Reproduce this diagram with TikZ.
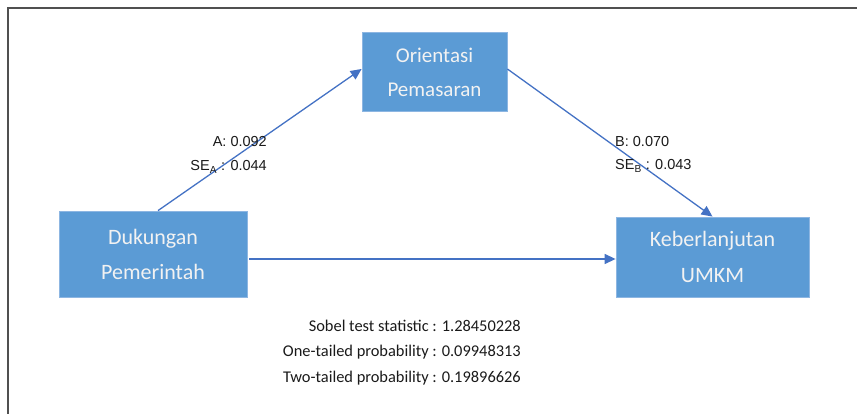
\documentclass[tikz,border=0pt]{standalone}
\usepackage{fontspec}
\setmainfont{Carlito}
\newfontfamily\boxfont{Carlito}
\newfontfamily\labfont{Liberation Sans}
\usetikzlibrary{arrows.meta,calc}
\definecolor{boxblue}{HTML}{5B9BD5}
\definecolor{boxedge}{HTML}{8DB6E2}
\definecolor{arrblue}{HTML}{4472C4}
\definecolor{frame}{HTML}{505050}
\definecolor{txt}{HTML}{1A1A1A}
\tikzset{
  varbox/.style={draw=boxedge, line width=0.8pt, fill=boxblue, text=white!95!black,
    inner sep=0pt, align=center, font=\boxfont\fontsize{21}{34}\selectfont},
  conn/.style={draw=arrblue, line width=1.3pt, -{Triangle[length=11pt,width=10pt]}},
  lab/.style={inner sep=0pt, text=txt, font=\labfont\fontsize{14.5}{17}\selectfont},
  sob/.style={inner sep=0pt, text=txt, font=\boxfont\fontsize{16.4}{19}\selectfont}
}
\begin{document}
\begin{tikzpicture}[x=1pt,y=-1pt]
\useasboundingbox (0,0) rectangle (857,414);
% frame (top and left edges)
\draw[frame, line width=2pt] (8,414) -- (8,8) -- (857,8);
% boxes
\node[varbox, minimum width=145pt, minimum height=79pt] (op) at (434.5,72) {Orientasi\\Pemasaran};
\node[varbox, minimum width=188pt, minimum height=86pt, font=\boxfont\fontsize{22}{35}\selectfont] (dp) at (153,254) {Dukungan\\Pemerintah};
\node[varbox, minimum width=193pt, minimum height=80pt, font=\boxfont\fontsize{22}{36}\selectfont] (ko) at (712.5,257) {Keberlanjutan\\UMKM};
% connectors
\draw[conn] ([xshift=5pt]dp.north) -- ([yshift=3pt]op.west);
\draw[conn] ([yshift=3pt]op.east) -- (ko.north);
\draw[conn] ([xshift=2pt,yshift=-5pt]dp.east) -- ([yshift=-5pt]dp.east -| ko.west);
% path labels
\node[lab, anchor=base east] (la1) at (267,147) {A: 0.092};
\node[lab, anchor=base east] (la2) at (267,171) {SE\textsubscript{A} : 0.044};
\node[lab, anchor=base west] (lb1) at (615,147) {B: 0.070};
\node[lab, anchor=base west] (lb2) at (615,170) {SE\textsubscript{B} : 0.043};
% Sobel results
\node[sob, anchor=base east] (s1) at (521,331) {Sobel test statistic : 1.28450228};
\node[sob, anchor=base east] (s2) at (521,356.5) {One-tailed probability : 0.09948313};
\node[sob, anchor=base east] (s3) at (521,382) {Two-tailed probability : 0.19896626};
\end{tikzpicture}
\end{document}
